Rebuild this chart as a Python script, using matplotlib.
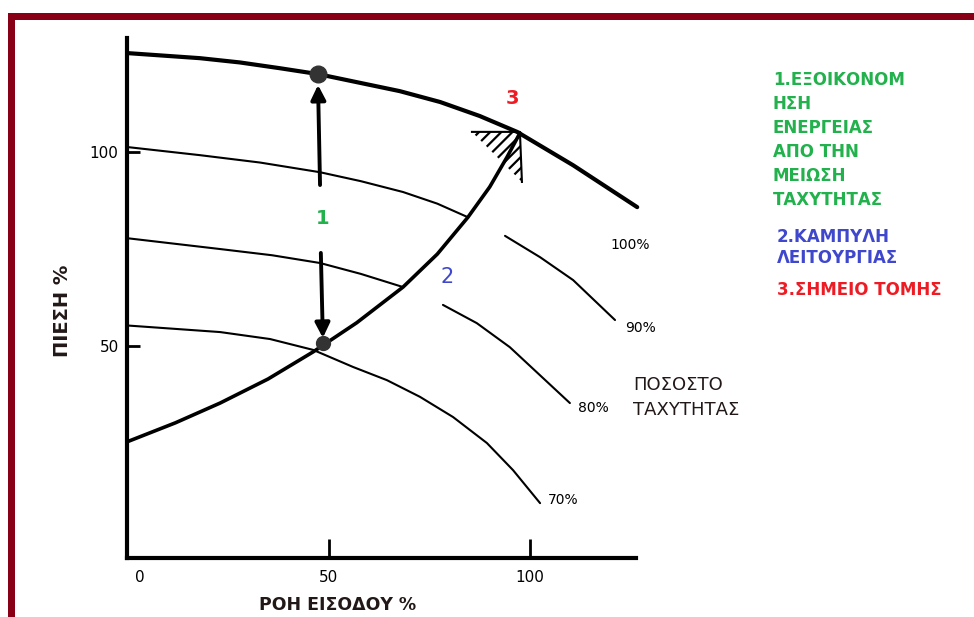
# Pump speed curves against the system curve (energy saving by speed reduction)

import matplotlib
matplotlib.use('Agg')
import matplotlib.pyplot as plt
from matplotlib.patches import Rectangle
from matplotlib.transforms import ScaledTranslation

# pump curves at each speed, flow % vs pressure %
speed100_x = [0.2, 18.1, 28.0, 38.0, 47.4, 67.7, 77.7, 87.5, 96.8, 110.7, 126.6]
speed100_y = [125.5, 124.2, 123.1, 121.6, 120.1, 115.7, 112.9, 109.3, 105.2, 96.6, 85.8]

speed90_x = [0.0, 18.1, 33.0, 47.9, 58.0, 68.5, 77.0, 84.6]
speed90_y = [101.3, 99.2, 97.3, 94.8, 92.5, 89.7, 86.7, 83.2]
speed90_tail_x = [93.8, 102.5, 110.7, 121.1]
speed90_tail_y = [78.4, 72.9, 67.0, 56.7]

speed80_x = [0.0, 23.1, 36.0, 47.9, 58.0, 68.5]
speed80_y = [77.8, 75.0, 73.4, 71.4, 68.6, 65.2]
speed80_tail_x = [78.4, 86.8, 95.0, 109.9]
speed80_tail_y = [60.6, 55.9, 49.7, 35.3]

speed70_x = [0.0, 23.1, 35.5, 46.2, 56.1, 64.5, 72.7, 80.9, 89.3, 95.8, 102.5]
speed70_y = [55.3, 53.6, 51.8, 49.0, 44.6, 41.2, 36.9, 31.7, 25.0, 18.0, 9.5]

# system (operating) curve
system_x = [0.0, 12.0, 23.1, 35.0, 46.2, 57.0, 68.5, 77.0, 84.6, 90.0, 94.3, 97.5]
system_y = [25.3, 30.2, 35.3, 41.5, 48.5, 56.0, 65.2, 73.7, 83.2, 91.0, 98.7, 104.9]

# operating points and the arrows between them
points_x = [47.4, 48.6]
points_y = [120.1, 50.8]
arrow_up = [(47.9, 91.5), (47.4, 117.3)]
arrow_down = [(48.1, 74.0), (48.6, 52.1)]

# hatched corner at the cut point
corner_x = [85.6, 97.5, 98.0]
corner_y = [105.2, 105.2, 92.3]

xticks = [0, 50, 100]
yticks = [50, 100]

curve_labels = ['100%', '90%', '80%', '70%']

note1 = ['1.ΕΞΟΙΚΟΝΟΜ', 'ΗΣΗ', 'ΕΝΕΡΓΕΙΑΣ', 'ΑΠΟ ΤΗΝ', 'ΜΕΙΩΣΗ', 'ΤΑΧΥΤΗΤΑΣ']
note2 = ['2.ΚΑΜΠΥΛΗ', 'ΛΕΙΤΟΥΡΓΙΑΣ']
note3 = ['3.ΣΗΜΕΙΟ ΤΟΜΗΣ']
speed_note = ['ΠΟΣΟΣΤΟ', 'ΤΑΧΥΤΗΤΑΣ']

GREEN = '#22b14c'
BLUE = '#3f48cc'
RED = '#ed1c24'
BORDER = '#880015'
INK = '#221818'

plt.rcParams['font.family'] = ['DejaVu Sans']
plt.rcParams['hatch.linewidth'] = 1.6

W, H = 974, 617
fig = plt.figure(figsize=(W / 100, H / 100), dpi=100)

def fx(px):
    return px / W

def fy(py):
    return 1 - py / H

ax = fig.add_axes([fx(127), fy(558), 128 * 4.03 / W, 520 / H])
ax.set_xlim(0, 128)
ax.set_ylim(-4.64, 129.4)
for s in ['top', 'right']:
    ax.spines[s].set_visible(False)
for s in ['left', 'bottom']:
    ax.spines[s].set_linewidth(3)
ax.spines['bottom'].set_bounds(0, 126.3)

thin = dict(color='black', lw=1.5, clip_on=False, solid_capstyle='round',
            solid_joinstyle='round')
thick = dict(color='black', clip_on=False, solid_capstyle='round',
             solid_joinstyle='round')
ax.plot(speed100_x, speed100_y, lw=3, **thick)
ax.plot(speed90_x, speed90_y, **thin)
ax.plot(speed90_tail_x, speed90_tail_y, **thin)
ax.plot(speed80_x, speed80_y, **thin)
ax.plot(speed80_tail_x, speed80_tail_y, **thin)
ax.plot(speed70_x, speed70_y, **thin)
ax.plot(system_x, system_y, lw=2.6, **thick)

ax.plot(points_x[:1], points_y[:1], 'o', color='#333333', ms=12, clip_on=False)
ax.plot(points_x[1:], points_y[1:], 'o', color='#333333', ms=10, clip_on=False)

for start, end in [arrow_up, arrow_down]:
    ax.annotate('', xy=end, xytext=start,
                arrowprops=dict(arrowstyle='-|>', lw=2.8, color='black',
                                mutation_scale=22, shrinkA=0, shrinkB=0))

ax.fill(corner_x, corner_y, facecolor='none', edgecolor='black', hatch='///', lw=0)
ax.plot(corner_x, corner_y, color='black', lw=1.5)

ax.set_xticks(xticks)
ax.set_xticklabels([str(t) for t in xticks], fontsize=11)
ax.set_yticks(yticks)
ax.set_yticklabels([str(t) for t in yticks], fontsize=11)
ax.tick_params(axis='x', direction='in', length=14, width=2, pad=9)
ax.tick_params(axis='y', direction='in', length=9, width=2, pad=6)
zero = ax.get_xticklabels()[0]
zero.set_transform(zero.get_transform() + ScaledTranslation(0.13, 0, fig.dpi_scale_trans))

# speed labels at curve ends
for lab, (px, py) in zip(curve_labels, [(630, 245), (641, 328), (593, 408), (563, 500)]):
    fig.text(fx(px), fy(py), lab, fontsize=10, ha='center', va='center')

fig.text(fx(323), fy(218), '1', color=GREEN, fontsize=14, weight='bold',
         ha='center', va='center')
fig.text(fx(447), fy(277), '2', color=BLUE, fontsize=15, ha='center', va='center')
fig.text(fx(512), fy(98), '3', color=RED, fontsize=14, weight='bold',
         ha='center', va='center')

for i, line in enumerate(note1):
    fig.text(fx(773), fy(80 + 24 * i), line, color=GREEN, fontsize=12,
             weight='bold', va='center')
for i, line in enumerate(note2):
    fig.text(fx(777), fy(237 + 21 * i), line, color=BLUE, fontsize=12,
             weight='bold', va='center')
fig.text(fx(777), fy(290), note3[0], color=RED, fontsize=12, weight='bold',
         va='center')
for i, line in enumerate(speed_note):
    fig.text(fx(633), fy(385 + 25 * i), line, color=INK, fontsize=13,
             va='center')

fig.text(fx(62), fy(311), 'ΠΙΕΣΗ %', rotation=90, fontsize=14, weight='bold',
         color=INK, ha='center', va='center')
fig.text(fx(338), fy(605), 'ΡΟΗ ΕΙΣΟΔΟΥ %', fontsize=12.5, weight='bold',
         color=INK, ha='center', va='center')

# dark red frame on top and left
fig.add_artist(Rectangle((fx(8), fy(20)), 1 - fx(8), 7 / H, transform=fig.transFigure,
                         color=BORDER, lw=0))
fig.add_artist(Rectangle((fx(8), 0), 7 / W, fy(13), transform=fig.transFigure,
                         color=BORDER, lw=0))

fig.savefig('out.png', dpi=100)
